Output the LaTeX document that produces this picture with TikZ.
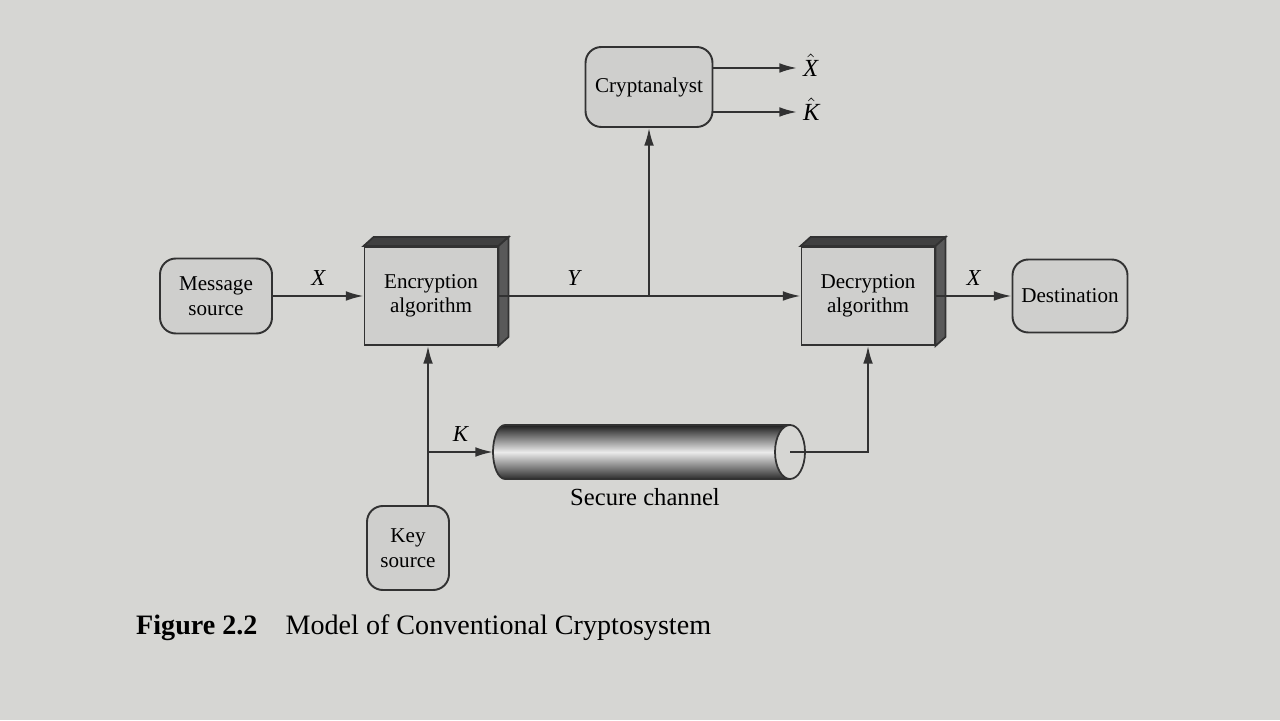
\documentclass[tikz,border=0pt]{standalone}
\usepackage{amsmath}
\usepackage{fontspec}
\setmainfont{Liberation Serif}
\usetikzlibrary{arrows.meta,calc}
\definecolor{pagebg}{RGB}{214,214,211}
\definecolor{boxbg}{RGB}{207,207,205}
\definecolor{inkc}{RGB}{50,50,50}

\begin{document}
\begin{tikzpicture}[x=0.02cm,y=0.02cm]
        \fill[pagebg] (0,0) rectangle (1280,720);
        \begin{scope}[every node/.style={draw=inkc,fill=boxbg,line width=1.1pt,rounded corners=9pt,align=center,font=\fontsize{12}{14}\selectfont}]
            \node[minimum width=2.24cm,minimum height=1.5cm] (msg) at (216,424) {Message\\source};
            \node[minimum width=2.54cm,minimum height=1.6cm] (crypt) at (649,633) {Cryptanalyst};
            \node[minimum width=2.3cm,minimum height=1.46cm] (dest) at (1070,424) {Destination};
            \node[minimum width=1.64cm,minimum height=1.68cm] (key) at (408,172) {Key\\source};
        \end{scope}
        \begin{scope}[every node/.style={draw=inkc,fill=boxbg,line width=1.1pt,align=center,minimum width=2.66cm,minimum height=1.96cm,font=\fontsize{12}{14}\selectfont}]
            \node (enc) at (431,424) {Encryption\\algorithm};
            \node (dec) at (868,424) {Decryption\\algorithm};
        \end{scope}
        % raised faces of the two algorithm blocks
        \foreach \b in {enc,dec} {
            \filldraw[draw=inkc,fill=black!75,line width=1pt] (\b.north west) -- ++(10,9) -- ($(\b.north east)+(10,9)$) -- (\b.north east) -- cycle;
            \filldraw[draw=inkc,fill=black!65,line width=1pt] (\b.north east) -- ++(10,9) -- ($(\b.south east)+(10,9)$) -- (\b.south east) -- cycle;
        }

        % secure channel pipe
        \coordinate (pipein) at (493,268);
        \coordinate (pipeout) at (790,268);
        \shade[top color=black!88,bottom color=black!82,middle color=black!8] (505,241) arc (270:90:12 and 27) -- (790,295) -- (790,241) -- cycle;
        \draw[inkc,line width=1pt] (790,241) -- (505,241) arc (270:90:12 and 27) -- (790,295);
        \filldraw[draw=inkc,fill=pagebg,line width=1pt] (pipeout) ellipse (15 and 27);
        \node[font=\fontsize{14}{16}\selectfont] (chan) at (645,223) {Secure channel};

        \coordinate (br) at (crypt.south |- enc.east);
        \coordinate (kb) at (428,268);
        \node[anchor=west,font=\fontsize{14}{16}\selectfont] (xh) at (797,655) {$\hat{\textit{X}}$};
        \node[anchor=west,font=\fontsize{14}{16}\selectfont] (kh) at (797,611) {$\hat{\textit{K}}$};

        \begin{scope}[every edge/.style={draw=inkc,line width=1.1pt},every node/.style={font=\fontsize{13}{15}\selectfont\itshape},>={Latex[length=10pt,width=5.5pt]}]
            \path [->] (msg) edge node[above=2pt] {X} (enc);
            \path [-] (enc.east) edge node[above=2pt] {Y} (br);
            \path [->] (br) edge (dec.west);
            \path [->] (br) edge (crypt.south);
            \path [->] (crypt.east |- 0,652) edge (xh.west |- 0,652);
            \path [->] (crypt.east |- 0,608) edge (kh.west |- 0,608);
            \path [->] (dec.east) edge node[above=2pt] {X} (dest.west);
            \path [->] (kb |- key.north) edge (kb |- enc.south);
            \path [->] (kb) edge node[above=2pt] {K} (pipein);
            \draw [->,inkc,line width=1.1pt] (pipeout) -- (dec.south |- pipeout) -- (dec.south);
        \end{scope}

        \node[anchor=west,font=\fontsize{16}{18}\selectfont] (cap) at (130,92) {\textbf{Figure 2.2}\quad Model of Conventional Cryptosystem};
    \end{tikzpicture}
\end{document}
